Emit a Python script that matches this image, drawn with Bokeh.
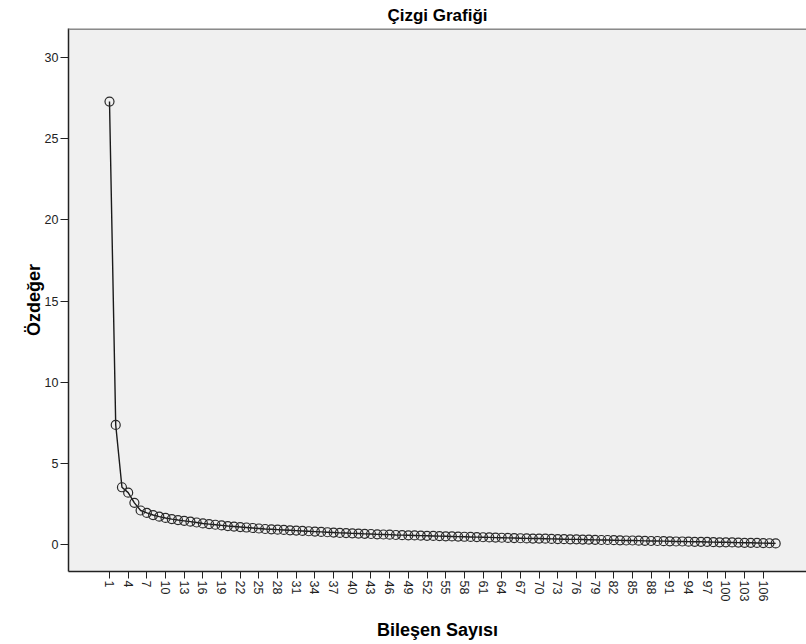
import math
from bokeh.plotting import figure
from bokeh.models import Range1d, FixedTicker, Span
from bokeh.embed import file_html
from bokeh.resources import INLINE

# --- data ---
components = list(range(1, 109))
eigenvalues = [27.30, 7.37, 3.53, 3.20, 2.57, 2.10,
               1.95, 1.82, 1.72, 1.64, 1.57, 1.51, 1.46, 1.41, 1.36, 1.30,
               1.26, 1.22, 1.18, 1.14, 1.11, 1.08, 1.05, 1.02, 0.99, 0.96,
               0.94, 0.92, 0.90, 0.88, 0.86, 0.84, 0.82, 0.80, 0.78, 0.76,
               0.74, 0.72, 0.71, 0.69, 0.68, 0.66, 0.65, 0.63, 0.62, 0.61,
               0.59, 0.58, 0.57, 0.56, 0.55, 0.54, 0.53, 0.52, 0.51, 0.50,
               0.49, 0.48, 0.47, 0.46, 0.45, 0.44, 0.43, 0.42, 0.41, 0.40,
               0.39, 0.38, 0.37, 0.37, 0.36, 0.35, 0.34, 0.33, 0.32, 0.32,
               0.31, 0.30, 0.29, 0.28, 0.28, 0.27, 0.26, 0.25, 0.25, 0.24,
               0.23, 0.22, 0.22, 0.21, 0.20, 0.19, 0.19, 0.18, 0.17, 0.17,
               0.16, 0.15, 0.14, 0.14, 0.13, 0.12, 0.11, 0.11, 0.10, 0.09,
               0.08, 0.07]
x_ticks = list(range(1, 107, 3))
y_ticks = [0, 5, 10, 15, 20, 25, 30]
title_text = "Çizgi Grafiği"
x_label = "Bileşen Sayısı"
y_label = "Özdeğer"

FONT = "Liberation Sans"

p = figure(width=806, height=644, output_backend="svg", toolbar_location=None,
           x_range=Range1d(-5.585, 112.95), y_range=Range1d(-1.66, 31.8),
           min_border_left=68, min_border_right=0, min_border_top=28,
           min_border_bottom=73, title=title_text)

p.background_fill_color = "#f0f0f0"
p.border_fill_color = "white"
p.outline_line_color = None
p.grid.visible = False

p.title.align = "center"
p.title.text_font = FONT
p.title.text_font_size = "17px"
p.title.text_font_style = "bold"
p.title.text_color = "black"
p.title.standoff = 7
p.title.offset = 0

for ax in (p.xaxis[0], p.yaxis[0]):
    ax.axis_line_color = "#222222"
    ax.axis_line_width = 1.5
    ax.major_tick_line_color = "#222222"
    ax.major_tick_line_width = 1
    ax.major_tick_in = 0
    ax.minor_tick_line_color = None
    ax.major_label_text_font = FONT
    ax.major_label_text_font_size = "12.5px"
    ax.major_label_text_color = "#222222"
    ax.axis_label_text_font = FONT
    ax.axis_label_text_font_size = "18px"
    ax.axis_label_text_font_style = "bold"
    ax.axis_label_text_color = "black"

p.xaxis.ticker = FixedTicker(ticks=x_ticks)
p.xaxis.major_label_overrides = {t: str(t) for t in x_ticks}
p.xaxis.major_label_orientation = -math.pi / 2
p.xaxis.major_tick_out = 7
p.xaxis.major_label_standoff = 2
p.xaxis.axis_label = x_label
p.xaxis.axis_label_standoff = 16

p.yaxis.ticker = FixedTicker(ticks=y_ticks)
p.yaxis.major_tick_out = 8
p.yaxis.major_label_standoff = 2
p.yaxis.axis_label = y_label
p.yaxis.axis_label_standoff = -2

top_border = Span(location=31.8, dimension="width", line_color="#8a8a8a", line_width=3)
p.add_layout(top_border)

p.line(components, eigenvalues, line_color="#1a1a1a", line_width=1.4)
p.scatter(components, eigenvalues, marker="circle", size=9, fill_color=None,
          line_color="#2a2a2a", line_width=1.2)

open("out.html", "w").write(file_html(p, INLINE))
